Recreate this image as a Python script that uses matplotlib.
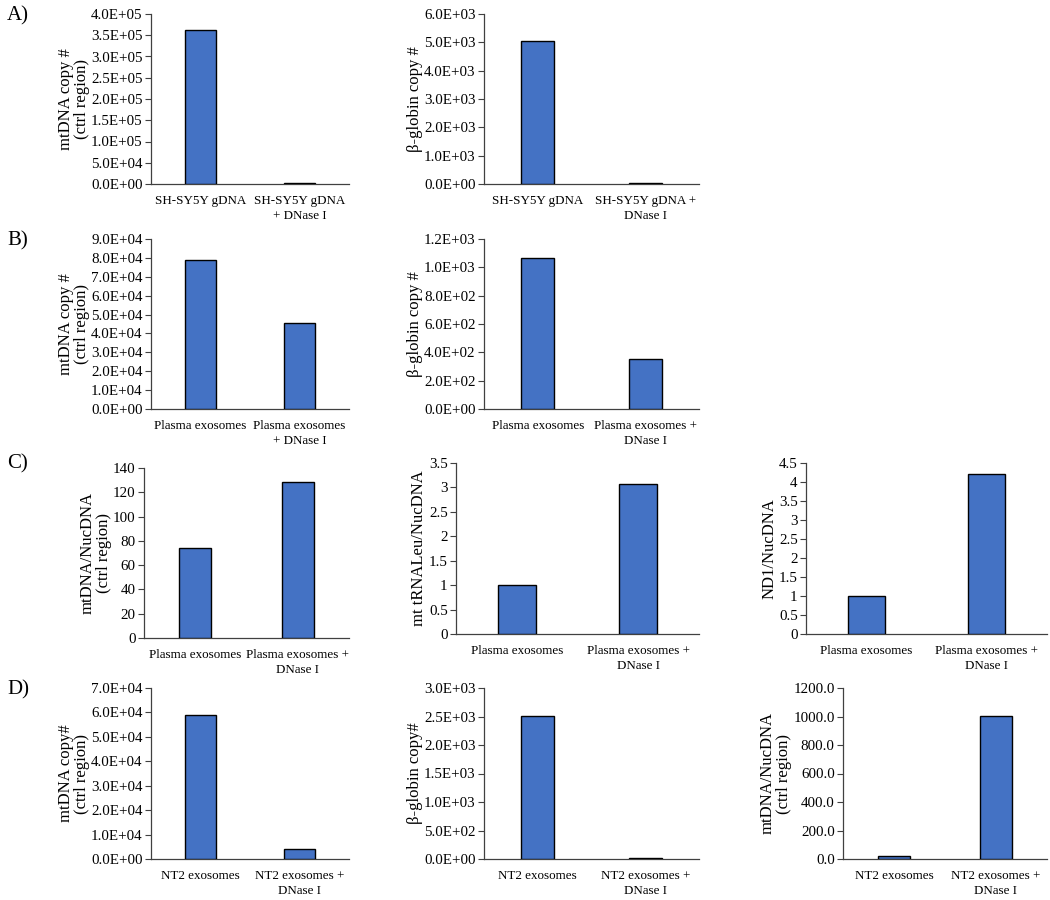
import matplotlib
matplotlib.use("Agg")
import matplotlib.pyplot as plt
from matplotlib.ticker import FuncFormatter, MultipleLocator

plt.rcParams['font.family'] = ['Liberation Serif', 'DejaVu Serif']

# values
a1_labels = ["SH-SY5Y gDNA", "SH-SY5Y gDNA\n+ DNase I"]
a1_values = [3.62e5, 2.0e3]
a2_labels = ["SH-SY5Y gDNA", "SH-SY5Y gDNA +\nDNase I"]
a2_values = [5.05e3, 20]

b1_labels = ["Plasma exosomes", "Plasma exosomes\n+ DNase I"]
b1_values = [7.9e4, 4.57e4]
b2_labels = ["Plasma exosomes", "Plasma exosomes +\nDNase I"]
b2_values = [1.065e3, 3.53e2]

c_labels = ["Plasma exosomes", "Plasma exosomes +\nDNase I"]
c1_values = [74.3, 128.5]
c2_values = [1.0, 3.07]
c3_values = [1.0, 4.22]

d_labels = ["NT2 exosomes", "NT2 exosomes +\nDNase I"]
d1_values = [5.9e4, 4.0e3]
d2_values = [2.51e3, 15]
d3_values = [22.0, 1002.0]

BAR_COLOR = "#4472C4"
W, H = 1050, 900

sci = FuncFormatter(lambda v, p: f"{v:.1E}")
gen = FuncFormatter(lambda v, p: f"{v:g}")
one = FuncFormatter(lambda v, p: f"{v:.1f}")

# (left, top, right, bottom) in pixels, labels, values, ymax, step, formatter, ylabel
panels = [
    ((151, 14, 349, 184), a1_labels, a1_values, 4e5, 5e4, sci, "mtDNA copy #\n(ctrl region)"),
    ((484, 14, 699, 184), a2_labels, a2_values, 6e3, 1e3, sci, "β-globin copy #"),
    ((151, 239, 349, 409), b1_labels, b1_values, 9e4, 1e4, sci, "mtDNA copy #\n(ctrl region)"),
    ((484, 239, 699, 409), b2_labels, b2_values, 1.2e3, 2e2, sci, "β-globin copy #"),
    ((144, 468, 349, 638), c_labels, c1_values, 140, 20, gen, "mtDNA/NucDNA\n(ctrl region)"),
    ((456, 463, 699, 634), c_labels, c2_values, 3.5, 0.5, gen, "mt tRNALeu/NucDNA"),
    ((806, 463, 1047, 634), c_labels, c3_values, 4.5, 0.5, gen, "ND1/NucDNA"),
    ((151, 688, 349, 859), d_labels, d1_values, 7e4, 1e4, sci, "mtDNA copy#\n(ctrl region)"),
    ((484, 688, 699, 859), d_labels, d2_values, 3e3, 5e2, sci, "β-globin copy#"),
    ((843, 688, 1047, 859), d_labels, d3_values, 1200, 200, one, "mtDNA/NucDNA\n(ctrl region)"),
]

fig = plt.figure(figsize=(W / 100, H / 100), dpi=100)

for (l, t, r, b), labels, values, ymax, step, fmt, ylabel in panels:
    ax = fig.add_axes([l / W, 1 - b / H, (r - l) / W, (b - t) / H])
    ax.bar(range(len(values)), values, width=0.31, color=BAR_COLOR,
           edgecolor="black", linewidth=1.0, zorder=3)
    ax.set_xlim(-0.5, 1.5)
    ax.set_ylim(0, ymax)
    ax.yaxis.set_major_locator(MultipleLocator(step))
    ax.yaxis.set_major_formatter(fmt)
    ax.set_xticks(range(len(labels)))
    ax.set_xticklabels(labels, fontsize=9.4, linespacing=1.3)
    ax.tick_params(axis="x", length=0, pad=8)
    ax.tick_params(axis="y", length=4, width=0.8, color="#404040", labelsize=10.8, pad=2)
    for s in ["top", "right"]:
        ax.spines[s].set_visible(False)
    for s in ["left", "bottom"]:
        ax.spines[s].set_color("#404040")
        ax.spines[s].set_linewidth(0.9)
    ax.set_ylabel(ylabel, fontsize=12, linespacing=1.0, labelpad=1)

for txt, y in [("A)", 16), ("B)", 241), ("C)", 464), ("D)", 690)]:
    fig.text(7 / W, 1 - y / H, txt, fontsize=15, va="center", ha="left")

fig.savefig("out.png", dpi=100)
